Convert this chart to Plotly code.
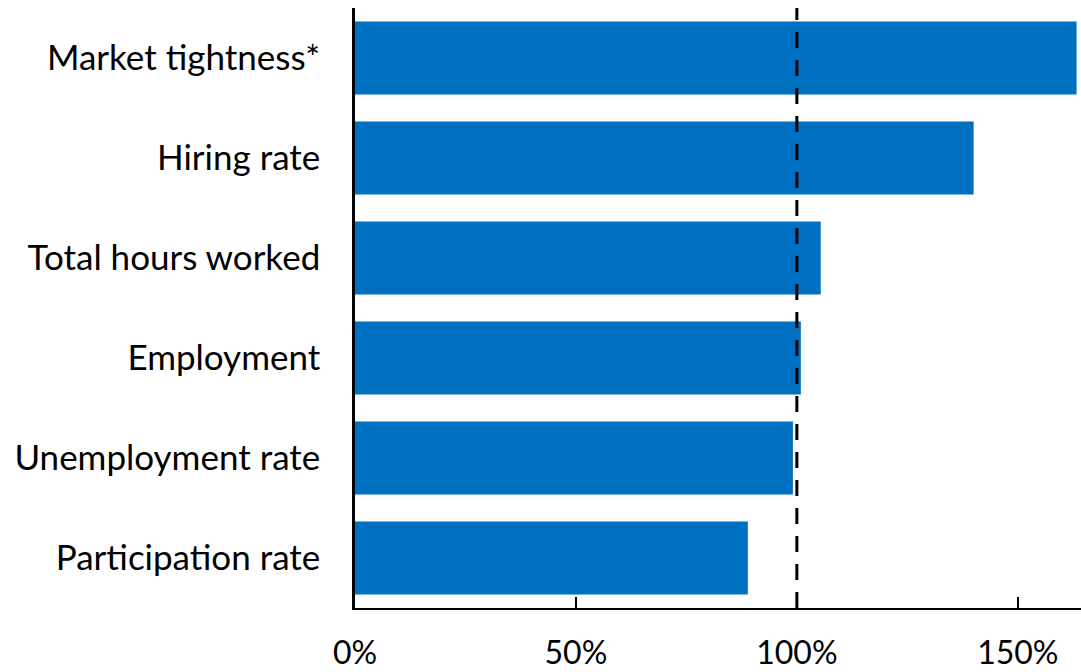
import plotly.graph_objects as go

categories = ["Participation rate", "Unemployment rate", "Employment",
              "Total hours worked", "Hiring rate", "Market tightness*"]
values = [88.9, 99.1, 100.9, 105.4, 140.0, 163.3]
tick_vals = [0, 50, 100, 150]
tick_text = ["0%", "50%", "100%", "150%"]
reference_level = 100

FONT = "Lato"

fig = go.Figure()
fig.add_trace(go.Bar(
    y=categories, x=values, orientation="h",
    marker=dict(color="#0070C0", line=dict(width=0)),
    hoverinfo="skip",
))

fig.add_shape(type="line", xref="x", yref="paper",
              x0=reference_level, x1=reference_level, y0=0, y1=1,
              line=dict(color="black", width=3, dash="16px,12px"))

fig.update_layout(
    width=1081, height=672,
    margin=dict(l=355, r=0, t=8, b=64),
    plot_bgcolor="white", paper_bgcolor="white",
    bargap=0.27,
    showlegend=False,
    font=dict(family=FONT, size=35, color="black"),
)
fig.update_xaxes(
    range=[0, 164.3], tickvals=tick_vals, ticktext=tick_text,
    showgrid=False, zeroline=False, automargin=False,
    showline=True, linecolor="black", linewidth=2,
    ticks="inside", ticklen=11, tickwidth=1.5, tickcolor="black",
    ticklabelstandoff=16,
    tickfont=dict(family=FONT, size=32, color="black"),
)
fig.update_yaxes(
    range=[-0.5, 5.5], automargin=False,
    showgrid=False, zeroline=False,
    showline=True, linecolor="black", linewidth=2.5,
    ticks="", ticklabelstandoff=25,
    tickfont=dict(family=FONT, size=35, color="black"),
)

fig.write_html("out.html")
